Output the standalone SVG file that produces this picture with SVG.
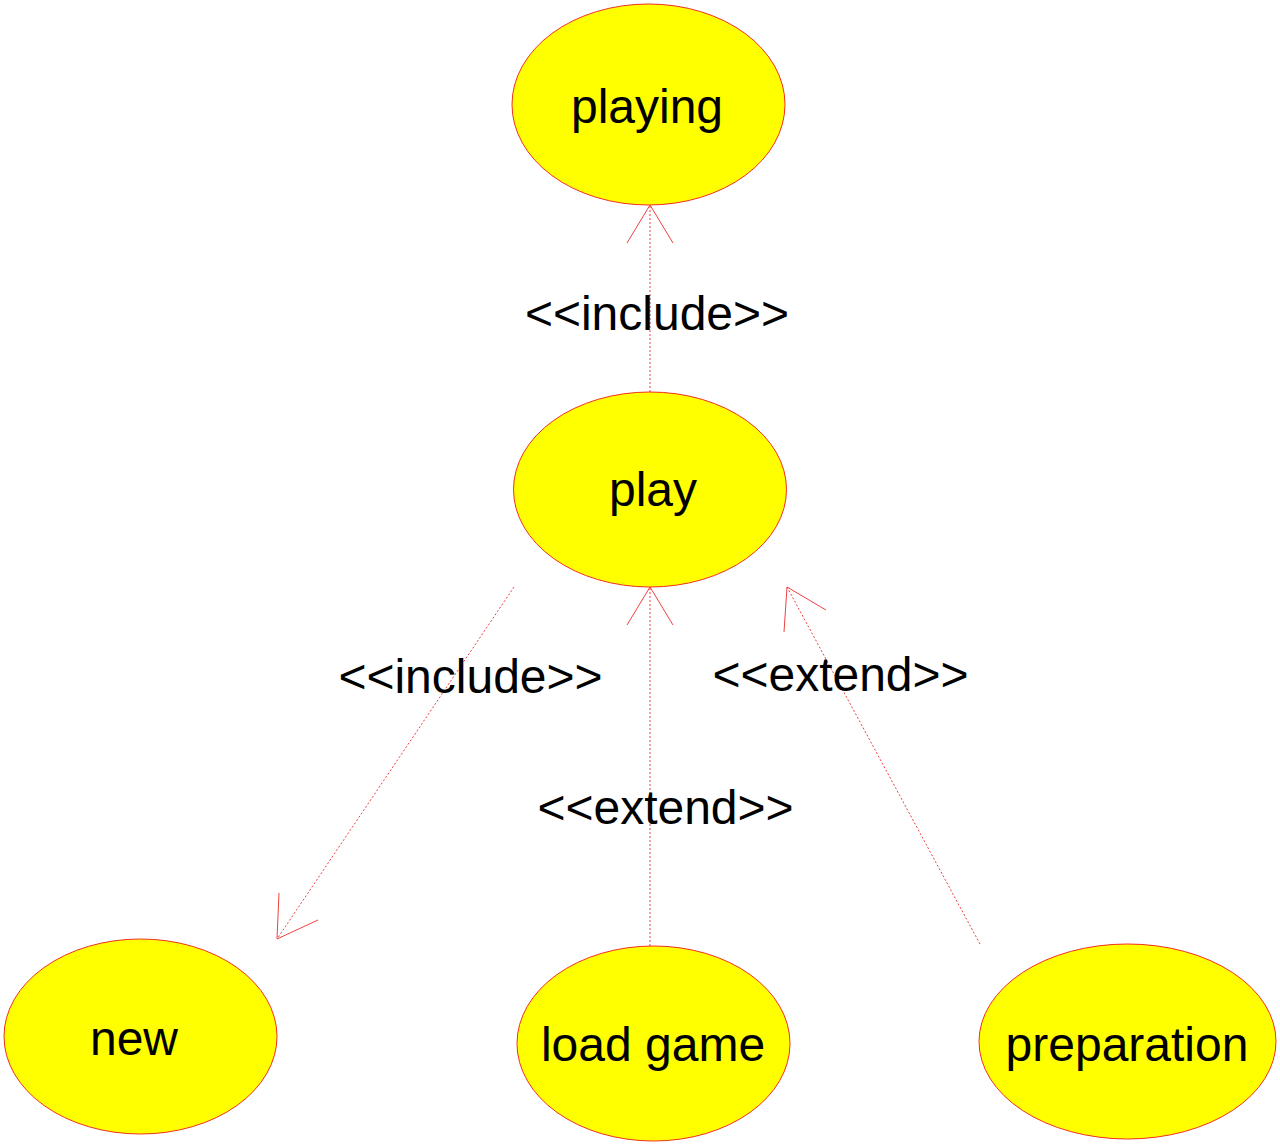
<svg xmlns="http://www.w3.org/2000/svg" width="1280" height="1144" viewBox="0 0 1280 1144">
<style>
.node ellipse{fill:#ffff00;stroke:#f03020;stroke-width:1}
.node text,.label{font-family:"Liberation Sans",Arial,sans-serif;font-size:48px;fill:#000;text-anchor:middle}
.conn line.l{stroke:#f04040;stroke-width:1;stroke-dasharray:2,2}
.conn polyline{fill:none;stroke:#f04040;stroke-width:1}
</style>
<rect width="1280" height="1144" fill="#fff"/>
<g id="connectors" class="conn">
<g id="e1"><line class="l" x1="650" y1="392" x2="650" y2="205"/><polyline points="627,243 650,205 673,243"/></g>
<g id="e2"><line class="l" x1="514" y1="587" x2="277" y2="939"/><polyline points="279,893 277,939 318,920"/></g>
<g id="e3"><line class="l" x1="650" y1="946" x2="650" y2="587"/><polyline points="627,625 650,587 673,625"/></g>
<g id="e4"><line class="l" x1="980" y1="944" x2="787" y2="587"/><polyline points="784,632 787,587 826,610"/></g>
</g>
<g id="playing" class="node"><ellipse cx="648.5" cy="104.5" rx="136.5" ry="100.5"/><text x="647" y="123">playing</text></g>
<g id="play" class="node"><ellipse cx="650" cy="489.5" rx="136.5" ry="97.5"/><text x="653" y="506">play</text></g>
<g id="new" class="node"><ellipse cx="140.5" cy="1036.5" rx="136.5" ry="97.5"/><text x="134" y="1055">new</text></g>
<g id="loadgame" class="node"><ellipse cx="653.5" cy="1043.5" rx="136.5" ry="97.5"/><text x="653" y="1061">load game</text></g>
<g id="preparation" class="node"><ellipse cx="1127.5" cy="1041.5" rx="148.5" ry="97.5"/><text x="1127" y="1061">preparation</text></g>
<g id="labels">
<text class="label" x="657" y="330">&lt;&lt;include&gt;&gt;</text>
<text class="label" x="470.5" y="693">&lt;&lt;include&gt;&gt;</text>
<text class="label" x="840.5" y="691">&lt;&lt;extend&gt;&gt;</text>
<text class="label" x="665.5" y="824">&lt;&lt;extend&gt;&gt;</text>
</g>
</svg>
